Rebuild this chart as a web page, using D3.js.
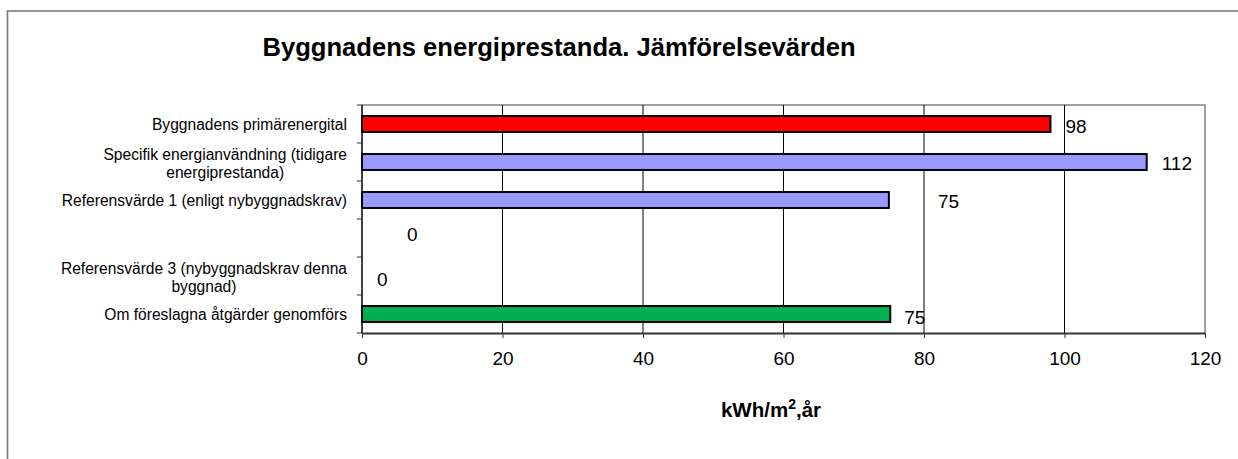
<!DOCTYPE html>
<html>
<head>
<meta charset="utf-8">
<script src="https://cdn.jsdelivr.net/npm/d3@7/dist/d3.min.js"></script>
<style>
  html, body { margin: 0; padding: 0; background: #fff; }
  svg { display: block; font-family: "Liberation Sans", Arial, sans-serif; }
</style>
</head>
<body>
<svg id="chart" width="1238" height="459"></svg>
<script>
// ---- data ----
const title = "Byggnadens energiprestanda. Jämförelsevärden";
const categories = [
  "Byggnadens primärenergital",
  "Specifik energianvändning (tidigare energiprestanda)",
  "Referensvärde 1 (enligt nybyggnadskrav)",
  "",
  "Referensvärde 3 (nybyggnadskrav denna byggnad)",
  "Om föreslagna åtgärder genomförs"
];
const values = [98, 111.7, 75, 0, 0, 75.2];
const valueLabels = ["98", "112", "75", "0", "0", "75"];
const barColors = ["#FF0000", "#9999FF", "#9999FF", "#9999FF", "#9999FF", "#00B050"];
const xTicks = [0, 20, 40, 60, 80, 100, 120];
const xTitleMain = "kWh/m";
const xTitleSup = "2";
const xTitleEnd = ",år";

// label placement tweaks (layout, not data)
const labelDx = [15, 15, 49, 45, 15, 14];
const labelDy = [2, 1, 1, -4, 3, 3];

// ---- layout ----
const svg = d3.select("#chart");
const plot = { left: 362, right: 1205, top: 105, bottom: 333 };

// outer chart frame
svg.append("rect")
  .attr("x", 7.5).attr("y", 11).attr("width", 1400).attr("height", 600)
  .attr("fill", "none").attr("stroke", "#7a7a7a").attr("stroke-width", 1.6);

const x = d3.scaleLinear().domain([0, 120]).range([plot.left, plot.right]);
const y = d3.scaleBand().domain(d3.range(categories.length))
  .range([plot.top, plot.bottom]).paddingInner(0.58).paddingOuter(0.29);
const yEdge = d3.scaleLinear().domain([0, categories.length]).range([plot.top, plot.bottom]);

// plot area frame (top/right grey)
svg.append("path")
  .attr("d", `M${plot.left},${plot.top}H${plot.right}V${plot.bottom}`)
  .attr("fill", "none").attr("stroke", "#808080").attr("stroke-width", 1.5);

// gridlines
svg.append("g").selectAll("line")
  .data(xTicks.filter(d => d > 0 && d < 120))
  .join("line")
  .attr("x1", d => x(d)).attr("x2", d => x(d))
  .attr("y1", plot.top).attr("y2", plot.bottom)
  .attr("stroke", "#000").attr("stroke-width", 1);

// x axis
const xAxis = svg.append("g")
  .attr("transform", `translate(0,${plot.bottom})`)
  .call(d3.axisBottom(x).tickValues(xTicks).tickSize(5).tickPadding(14).tickSizeOuter(0));
xAxis.select(".domain").attr("stroke", "#333").attr("stroke-width", 2);
xAxis.selectAll(".tick line").attr("stroke", "#333");
xAxis.selectAll("text").attr("font-size", 19).attr("fill", "#000")
  .attr("font-family", "Liberation Sans, Arial, sans-serif");

// y axis (left line + ticks at band edges)
svg.append("line")
  .attr("x1", plot.left).attr("x2", plot.left)
  .attr("y1", plot.top).attr("y2", plot.bottom)
  .attr("stroke", "#000").attr("stroke-width", 1.5);
svg.append("g").selectAll("line")
  .data(d3.range(categories.length + 1))
  .join("line")
  .attr("x1", plot.left - 5).attr("x2", plot.left)
  .attr("y1", d => yEdge(d)).attr("y2", d => yEdge(d))
  .attr("stroke", "#333").attr("stroke-width", 1);

// bars
svg.append("g").selectAll("rect")
  .data(values.map((v, i) => ({ v, i })).filter(d => d.v > 0))
  .join("rect")
  .attr("x", x(0))
  .attr("y", d => y(d.i))
  .attr("width", d => x(d.v) - x(0))
  .attr("height", y.bandwidth())
  .attr("fill", d => barColors[d.i])
  .attr("stroke", "#000").attr("stroke-width", 2);

// value labels
svg.append("g").selectAll("text")
  .data(values)
  .join("text")
  .attr("x", (d, i) => x(d) + labelDx[i])
  .attr("y", (d, i) => y(i) + y.bandwidth() / 2 + labelDy[i])
  .attr("dominant-baseline", "central")
  .attr("font-size", 19)
  .text((d, i) => valueLabels[i]);

// category labels, wrapped and centered as a block right-aligned at axis
const catG = svg.append("g");
const catFont = 15.6;
const maxW = 310;
const labelRight = 347;
const lineH = 18;
categories.forEach((c, i) => {
  if (!c) return;
  const words = c.split(" ");
  const lines = [];
  const probe = catG.append("text").attr("font-size", catFont);
  let cur = "";
  words.forEach(w => {
    const test = cur ? cur + " " + w : w;
    probe.text(test);
    if (probe.node().getComputedTextLength() > maxW && cur) {
      lines.push(cur); cur = w;
    } else cur = test;
  });
  lines.push(cur);
  const widths = lines.map(l => { probe.text(l); return probe.node().getComputedTextLength(); });
  probe.remove();
  const blockW = d3.max(widths);
  const cx = labelRight - blockW / 2;
  const cy = y(i) + y.bandwidth() / 2;
  const t = catG.append("text")
    .attr("font-size", catFont)
    .attr("text-anchor", "middle")
    .attr("dominant-baseline", "central");
  lines.forEach((l, k) => {
    t.append("tspan")
      .attr("x", cx)
      .attr("y", cy + (k - (lines.length - 1) / 2) * lineH + (lines.length > 1 ? 1 : 0))
      .text(l);
  });
});

// chart title
svg.append("text")
  .attr("x", 559).attr("y", 56)
  .attr("text-anchor", "middle")
  .attr("font-size", 25.6).attr("font-weight", "bold")
  .text(title);

// x axis title
const xt = svg.append("text")
  .attr("x", 771).attr("y", 417)
  .attr("text-anchor", "middle")
  .attr("font-size", 20.5).attr("font-weight", "bold");
xt.append("tspan").text(xTitleMain);
xt.append("tspan").attr("font-size", 14).attr("dy", -8).text(xTitleSup);
xt.append("tspan").attr("dy", 8).text(xTitleEnd);
</script>
</body>
</html>
